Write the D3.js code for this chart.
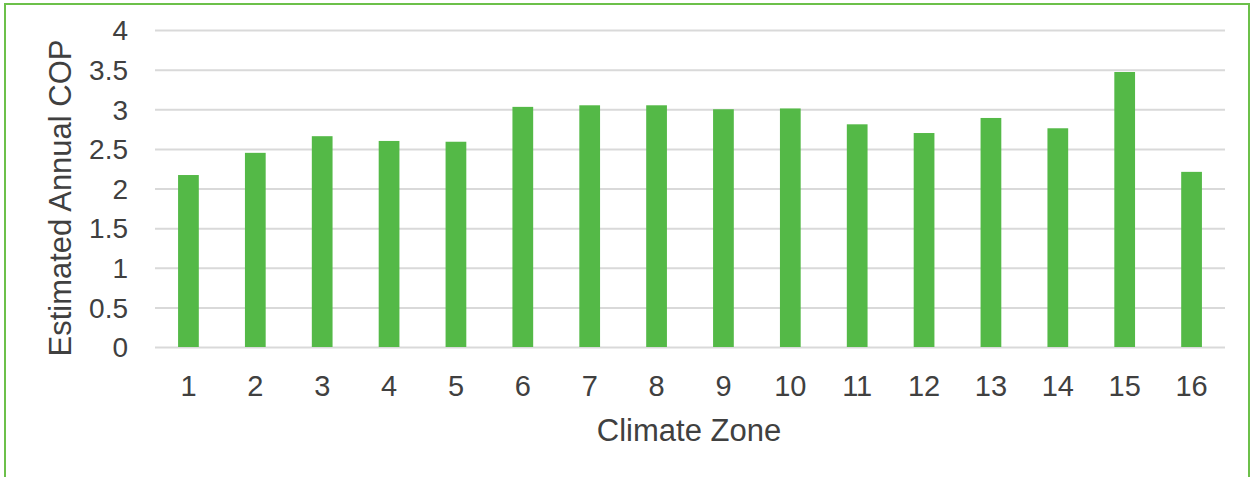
<!DOCTYPE html>
<html>
<head>
<meta charset="utf-8">
<script src="https://cdn.jsdelivr.net/npm/d3@7"></script>
<style>
  html, body { margin: 0; padding: 0; background: #ffffff; }
  svg { display: block; }
  text { font-family: "Liberation Sans", Arial, sans-serif; fill: #404040; }
</style>
</head>
<body>
<svg id="chart" width="1255" height="477"></svg>
<script>
const zones = ["1","2","3","4","5","6","7","8","9","10","11","12","13","14","15","16"];
const cop = [2.17, 2.45, 2.66, 2.6, 2.59, 3.03, 3.05, 3.05, 3.0, 3.01, 2.81, 2.7, 2.89, 2.76, 3.47, 2.21];
const yTicks = [0, 0.5, 1, 1.5, 2, 2.5, 3, 3.5, 4];
const yTickLabels = ["0", "0.5", "1", "1.5", "2", "2.5", "3", "3.5", "4"];
const xTitle = "Climate Zone";
const yTitle = "Estimated Annual COP";

(function () {
const svg = d3.select("#chart");
const W = 1255, H = 477;
const mLeft = 155, mRight = 1225, mTop = 30, mBottom = 347;

// outer green border (open at bottom like the cropped reference)
svg.append("path")
  .attr("d", `M5,${H} L5,4 L1249,4 L1249,${H}`)
  .attr("fill", "none")
  .attr("stroke", "#6cc04a")
  .attr("stroke-width", 2);

const x = d3.scaleBand().domain(zones).range([mLeft, mRight]).paddingInner(0.69).paddingOuter(0.345);
const y = d3.scaleLinear().domain([0, 4]).range([mBottom, mTop]);

// gridlines
const yAxis = d3.axisLeft(y).tickValues(yTicks).tickSize(-(mRight - mLeft)).tickFormat((d, i) => yTickLabels[i]);
const gy = svg.append("g").attr("transform", `translate(${mLeft},0)`).call(yAxis);
gy.select(".domain").remove();
gy.selectAll(".tick line").attr("stroke", "#d9d9d9").attr("stroke-width", 2);
gy.selectAll(".tick text")
  .attr("x", -27)
  .attr("dy", "0.35em")
  .style("font-size", "28px")
  .style("font-family", "'Liberation Sans', Arial, sans-serif")
  .attr("fill", "#404040");

// bars
svg.append("g").selectAll("rect").data(cop).join("rect")
  .attr("x", (d, i) => x(zones[i]))
  .attr("width", x.bandwidth())
  .attr("y", d => y(d))
  .attr("height", d => y(0) - y(d))
  .attr("fill", "#54b947");

// x axis labels
const xAxis = d3.axisBottom(x).tickSize(0);
const gx = svg.append("g").attr("transform", `translate(0,${mBottom})`).call(xAxis);
gx.select(".domain").remove();
gx.selectAll(".tick text")
  .attr("y", 0)
  .attr("dy", 49)
  .style("font-size", "29px")
  .style("font-family", "'Liberation Sans', Arial, sans-serif")
  .attr("fill", "#404040");

// titles
svg.append("text")
  .attr("x", 689)
  .attr("y", 441)
  .attr("text-anchor", "middle")
  .style("font-size", "31px")
  .text(xTitle);

svg.append("text")
  .attr("transform", `translate(71,198) rotate(-90)`)
  .attr("text-anchor", "middle")
  .style("font-size", "31px")
  .text(yTitle);
})();
</script>
</body>
</html>
